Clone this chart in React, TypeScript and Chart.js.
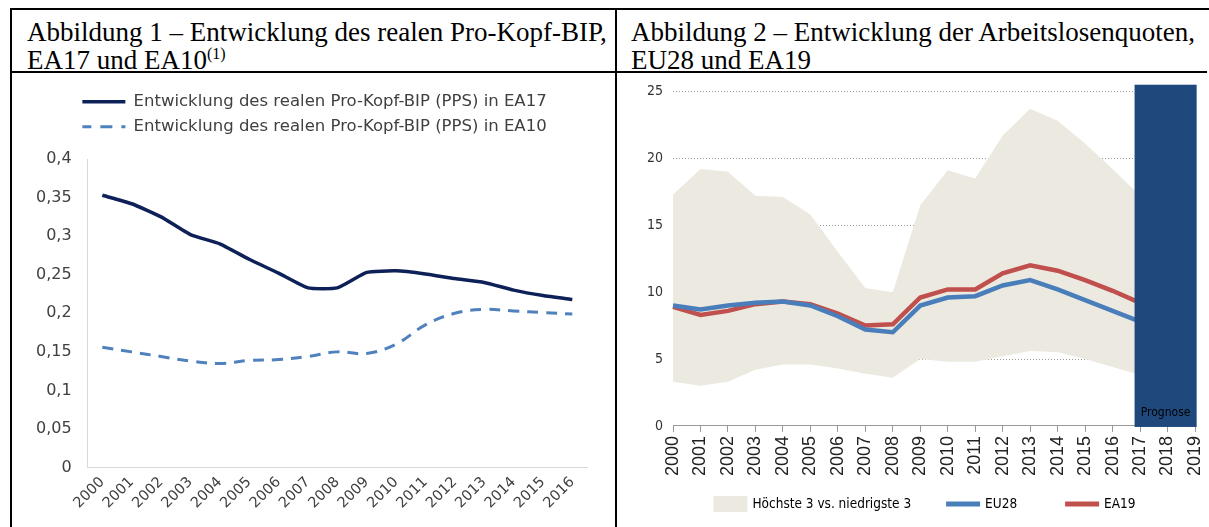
import React, { useEffect, useRef } from 'react';
import { Chart, registerables } from 'chart.js';

Chart.register(...registerables);

// ---------- Abbildung 1 ----------
const yearsLeft = ['2000', '2001', '2002', '2003', '2004', '2005', '2006', '2007', '2008', '2009', '2010', '2011', '2012', '2013', '2014', '2015', '2016'];
const ea17 = [0.353, 0.342, 0.325, 0.302, 0.29, 0.27, 0.252, 0.233, 0.233, 0.253, 0.255, 0.251, 0.245, 0.24, 0.23, 0.223, 0.218];
const ea10 = [0.156, 0.15, 0.144, 0.138, 0.135, 0.139, 0.14, 0.144, 0.15, 0.148, 0.16, 0.185, 0.2, 0.205, 0.203, 0.201, 0.199];
const yTickValuesLeft = [0, 0.05, 0.1, 0.15, 0.2, 0.25, 0.3, 0.35, 0.4];
const yTickLabelsLeft = ['0', '0,05', '0,1', '0,15', '0,2', '0,25', '0,3', '0,35', '0,4'];
const labelEA17 = 'Entwicklung des realen Pro-Kopf-BIP (PPS) in EA17';
const labelEA10 = 'Entwicklung des realen Pro-Kopf-BIP (PPS) in EA10';

// ---------- Abbildung 2 ----------
const yearsRight = ['2000', '2001', '2002', '2003', '2004', '2005', '2006', '2007', '2008', '2009', '2010', '2011', '2012', '2013', '2014', '2015', '2016', '2017', '2018', '2019'];
const bandHigh = [17.3, 19.2, 19.0, 17.2, 17.1, 15.8, 13.0, 10.3, 10.0, 16.5, 19.1, 18.5, 21.7, 23.7, 22.8, 21.1, 19.2, 17.2];
const bandLow = [3.3, 3.0, 3.3, 4.2, 4.6, 4.6, 4.3, 3.9, 3.6, 5.0, 4.8, 4.8, 5.2, 5.6, 5.5, 5.0, 4.4, 3.8];
const eu28 = [9.0, 8.7, 9.0, 9.2, 9.3, 9.0, 8.2, 7.2, 7.0, 9.0, 9.6, 9.7, 10.5, 10.9, 10.2, 9.4, 8.6, 7.8];
const ea19 = [8.9, 8.3, 8.6, 9.1, 9.3, 9.1, 8.4, 7.5, 7.6, 9.6, 10.2, 10.2, 11.4, 12.0, 11.6, 10.9, 10.1, 9.2];
const yTickValuesRight = [0, 5, 10, 15, 20, 25];
const labelBand = 'Höchste 3 vs. niedrigste 3';
const labelEU28 = 'EU28';
const labelEA19 = 'EA19';
const prognoseText = 'Prognose';
const prognoseFromYear = 2016.8;
const prognoseToYear = 2019.06;
const prognoseTop = 25.5;
const firstYearRight = 2000;

const leftFont = "'DejaVu Sans', 'Open Sans', sans-serif";
const narrowFont = "'Liberation Sans Narrow', 'DejaVu Sans Condensed', 'Liberation Sans', sans-serif";
const armFont = "'Liberation Sans', Arial, sans-serif";

const legendTweakPlugin = {
  id: 'legendTweak',
  beforeInit(chart: any) {
    const legend = chart.legend;
    if (!legend) return;
    const origFit = legend.fit;
    legend.fit = function fit() {
      origFit.call(this);
      this.height += 14;
    };
    const origDraw = legend.draw;
    legend.draw = function draw(...args: any[]) {
      const ctx = this.ctx;
      ctx.save();
      ctx.translate(11, 0);
      origDraw.apply(this, args);
      ctx.restore();
    };
  },
};

function LeftChart() {
  const ref = useRef<HTMLCanvasElement>(null);
  useEffect(() => {
    const chart = new Chart(ref.current as HTMLCanvasElement, {
      type: 'line',
      data: {
        labels: yearsLeft,
        datasets: [
          {
            label: labelEA17,
            data: ea17,
            borderColor: '#0e2058',
            backgroundColor: '#0e2058',
            borderWidth: 3.5,
            pointRadius: 0,
            tension: 0.15,
            pointStyle: 'line',
          },
          {
            label: labelEA10,
            data: ea10,
            borderColor: '#4f81bd',
            backgroundColor: '#4f81bd',
            borderWidth: 3,
            borderDash: [11, 8],
            pointRadius: 0,
            tension: 0.4,
            pointStyle: 'line',
          },
        ],
      },
      options: {
        animation: false,
        responsive: false,
        layout: { padding: { left: 8, right: 28, top: 12, bottom: 9 } },
        plugins: {
          tooltip: { enabled: false },
          legend: {
            position: 'top',
            labels: {
              usePointStyle: true,
              pointStyleWidth: 43,
              boxHeight: 14,
              padding: 8.5,
              color: '#404040',
              font: { family: leftFont, size: 16.5 },
              generateLabels: (c: any) => {
                const items = Chart.defaults.plugins.legend.labels.generateLabels(c);
                return items.map((it: any) => {
                  const ds = c.data.datasets[it.datasetIndex];
                  return {
                    ...it,
                    lineWidth: ds.borderWidth,
                    lineDash: ds.borderDash ? [12, 9] : [],
                    lineDashOffset: ds.borderDash ? 3 : 0,
                    strokeStyle: ds.borderColor,
                  };
                });
              },
            },
          },
        },
        scales: {
          x: {
            offset: true,
            grid: { display: false, drawTicks: false },
            border: { display: true, color: '#d9d9d9', width: 1 },
            ticks: {
              minRotation: 45,
              maxRotation: 45,
              autoSkip: false,
              padding: 6,
              color: '#404040',
              font: { family: leftFont, size: 14.5 },
            },
          },
          y: {
            min: 0,
            max: 0.4,
            afterBuildTicks: (s: any) => {
              s.ticks = yTickValuesLeft.map((v) => ({ value: v }));
            },
            grid: { display: false, drawTicks: false },
            border: { display: true, color: '#d9d9d9', width: 1 },
            ticks: {
              padding: 16,
              color: '#404040',
              font: { family: leftFont, size: 16 },
              callback: (_v: any, i: number) => yTickLabelsLeft[i],
            },
          },
        },
      },
      plugins: [legendTweakPlugin],
    });
    return () => chart.destroy();
  }, []);
  return <canvas ref={ref} width={603} height={454} style={{ position: 'absolute', left: 12, top: 73, width: 603, height: 454 }} />;
}

const prognosePlugin = {
  id: 'prognose',
  afterDatasetsDraw(chart: any) {
    const { ctx, scales } = chart;
    const x = scales.x;
    const y = scales.y;
    const x0 = x.getPixelForValue(prognoseFromYear - firstYearRight);
    const x1 = x.getPixelForValue(prognoseToYear - firstYearRight);
    const yTop = y.getPixelForValue(prognoseTop);
    const yBot = y.getPixelForValue(0) + 1;
    ctx.save();
    ctx.fillStyle = '#1f497d';
    ctx.fillRect(x0, yTop, x1 - x0, yBot - yTop);
    ctx.fillStyle = '#000000';
    ctx.font = `12px ${narrowFont}`;
    ctx.textAlign = 'center';
    ctx.textBaseline = 'middle';
    ctx.fillText(prognoseText, (x0 + x1) / 2, yBot - 14);
    ctx.restore();
  },
};

const bottomLegendPlugin = {
  id: 'bottomLegend',
  afterDraw(chart: any) {
    const { ctx } = chart;
    const items = chart.data.datasets.filter((d: any) => d.showInLegend !== false);
    const swatch = 34;
    const textGap = 5;
    const itemGap = 35;
    ctx.save();
    ctx.font = `13.5px ${narrowFont}`;
    const widths = items.map((d: any) => swatch + textGap + ctx.measureText(d.label).width);
    const total = widths.reduce((a: number, b: number) => a + b, 0) + itemGap * (items.length - 1);
    let x = chart.width / 2 + 5 - total / 2;
    const y = chart.height - 23;
    items.forEach((d: any, i: number) => {
      if (d.fill) {
        ctx.fillStyle = d.backgroundColor;
        ctx.fillRect(x, y - 8, swatch, 16);
      } else {
        ctx.strokeStyle = d.borderColor;
        ctx.lineWidth = 5;
        ctx.lineCap = 'butt';
        ctx.beginPath();
        ctx.moveTo(x, y);
        ctx.lineTo(x + swatch, y);
        ctx.stroke();
      }
      ctx.fillStyle = '#000000';
      ctx.textAlign = 'left';
      ctx.textBaseline = 'middle';
      ctx.fillText(d.label, x + swatch + textGap, y);
      x += widths[i] + itemGap + (i === 1 ? 13 : 0);
    });
    ctx.restore();
  },
};

function RightChart() {
  const ref = useRef<HTMLCanvasElement>(null);
  useEffect(() => {
    const chart = new Chart(ref.current as HTMLCanvasElement, {
      type: 'line',
      data: {
        labels: yearsRight,
        datasets: [
          {
            label: labelBand,
            data: bandHigh,
            borderWidth: 0,
            borderColor: 'rgba(0,0,0,0)',
            backgroundColor: '#eceae0',
            fill: '+1',
            pointRadius: 0,
            tension: 0,
          },
          {
            label: 'low',
            showInLegend: false,
            data: bandLow,
            borderWidth: 0,
            borderColor: 'rgba(0,0,0,0)',
            backgroundColor: '#eceae0',
            fill: false,
            pointRadius: 0,
            tension: 0,
          },
          {
            label: labelEU28,
            data: eu28,
            borderColor: '#4a7ebb',
            backgroundColor: '#4a7ebb',
            borderWidth: 4.5,
            pointRadius: 0,
            tension: 0,
          },
          {
            label: labelEA19,
            data: ea19,
            borderColor: '#c0504d',
            backgroundColor: '#c0504d',
            borderWidth: 4.5,
            pointRadius: 0,
            tension: 0,
          },
        ] as any,
      },
      options: {
        animation: false,
        responsive: false,
        layout: { padding: { left: 20, right: 14, top: 11, bottom: 47 } },
        plugins: {
          tooltip: { enabled: false },
          filler: { drawTime: 'beforeDatasetsDraw' },
          legend: { display: false },
        } as any,
        scales: {
          x: {
            offset: false,
            afterFit: (s: any) => {
              s.paddingRight = 0;
            },
            grid: { display: true, drawOnChartArea: false, drawTicks: true, tickLength: 6, color: '#999999' },
            border: { display: true, color: '#999999', width: 1 },
            ticks: {
              minRotation: 90,
              maxRotation: 90,
              autoSkip: false,
              padding: 4,
              color: '#222222',
              font: { family: armFont, size: 18 },
            },
          },
          y: {
            min: 0,
            max: 25,
            afterBuildTicks: (s: any) => {
              s.ticks = yTickValuesRight.map((v) => ({ value: v }));
            },
            grid: { display: true, drawTicks: false, color: '#9a9a9a', lineWidth: 1 },
            border: { display: false, dash: [1, 2] },
            ticks: {
              padding: 10,
              color: '#333333',
              font: { family: narrowFont, size: 14 },
            },
          },
        },
      },
      plugins: [prognosePlugin, bottomLegendPlugin],
    });
    return () => chart.destroy();
  }, []);
  return <canvas ref={ref} width={592} height={454} style={{ position: 'absolute', left: 617, top: 73, width: 592, height: 454 }} />;
}

export default function App() {
  const titleStyle: React.CSSProperties = {
    position: 'absolute',
    top: 18,
    fontFamily: "'Liberation Serif', 'Times New Roman', serif",
    fontSize: 27,
    lineHeight: '28px',
    color: '#000',
    whiteSpace: 'nowrap',
  };
  return (
    <div style={{ position: 'absolute', left: 0, top: 0, width: 1209, height: 527, background: '#fff', overflow: 'hidden' }}>
      <div style={{ position: 'absolute', left: 10, top: 8, width: 1199, height: 2, background: '#000' }} />
      <div style={{ position: 'absolute', left: 10, top: 8, width: 2, height: 519, background: '#000' }} />
      <div style={{ position: 'absolute', left: 615, top: 8, width: 2, height: 519, background: '#000' }} />
      <div style={{ position: 'absolute', left: 10, top: 71, width: 1197, height: 2, background: '#000' }} />
      <div style={{ ...titleStyle, left: 27 }}>
        Abbildung 1 – Entwicklung des realen Pro-Kopf-BIP,
        <br />
        EA17 und EA10<span style={{ fontSize: 16, position: 'relative', top: -10 }}>(1)</span>
      </div>
      <div style={{ ...titleStyle, left: 631 }}>
        Abbildung 2 – Entwicklung der Arbeitslosenquoten,
        <br />
        EU28 und EA19
      </div>
      <LeftChart />
      <RightChart />
    </div>
  );
}
